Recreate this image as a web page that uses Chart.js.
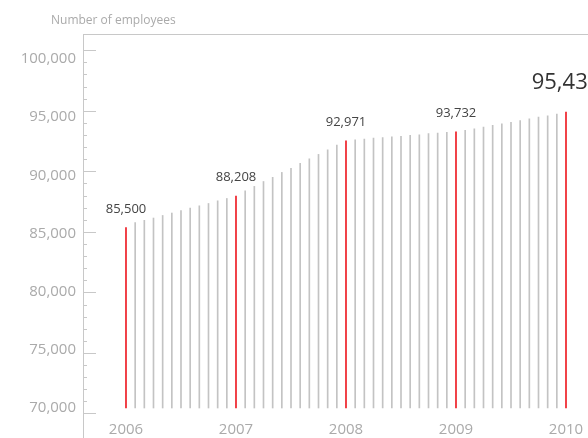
<!DOCTYPE html>
<html><head><meta charset="utf-8">
<script src="https://cdn.jsdelivr.net/npm/chart.js@4"></script>
<style>
html,body{margin:0;padding:0;background:#fff;}
#wrap{position:relative;width:588px;height:438px;overflow:hidden;}
#title{position:absolute;left:51px;top:12px;font:12px "Open Sans",sans-serif;color:#aaa;line-height:16px;white-space:nowrap;}
</style></head><body>
<div id="wrap"><canvas id="c" width="588" height="438"></canvas><div id="title">Number of employees</div></div>
<script>
// ---- data ----
const years = ['2006', '2007', '2008', '2009', '2010'];
const employees2006 = [85500, 85930, 86130, 86330, 86550, 86760, 86960, 87190, 87380, 87580, 87810, 88010];
const employees2007 = [88208, 88660, 89050, 89470, 89830, 90250, 90610, 91030, 91420, 91800, 92200, 92590];
const employees2008 = [92971, 93050, 93120, 93200, 93250, 93310, 93350, 93430, 93480, 93580, 93630, 93690];
const employees2009 = [93732, 93860, 94000, 94150, 94290, 94420, 94560, 94710, 94860, 95000, 95120, 95260];
const employees2010 = [95438];
const yTickLabels = [70000, 75000, 80000, 85000, 90000, 95000, 100000];
const yMinorTicks = [71000,72000,73000,74000,76000,77000,78000,79000,81000,82000,83000,84000,86000,87000,88000,89000,91000,92000,93000,94000,96000,97000,98000,99000];
const yearStartIndex = [0, 12, 24, 36, 48];

const values = [].concat(employees2006, employees2007, employees2008, employees2009, employees2010);
const points = values.map((v, i) => ({x: i, y: v}));

const RED = '#ee1c24';
const GRAY = '#c3c3c3';
const AXIS = '#c8c8c8';
const LABEL = '#aaaaaa';
const FONT = '"Open Sans", sans-serif';

const noPad = s => { s.paddingTop = 0; s.paddingBottom = 0; s.paddingLeft = 0; s.paddingRight = 0; };

const valueLabels = {
  id: 'valueLabels',
  afterDatasetsDraw(chart) {
    const meta = chart.getDatasetMeta(0);
    const ctx = chart.ctx;
    ctx.save();
    ctx.textAlign = 'center';
    ctx.textBaseline = 'alphabetic';
    yearStartIndex.forEach((i, k) => {
      const el = meta.data[i];
      const big = k === yearStartIndex.length - 1;
      ctx.font = (big ? '22px ' : '13px ') + FONT;
      ctx.fillStyle = big ? '#333333' : '#444444';
      ctx.fillText(values[i].toLocaleString('en-US'), el.x, el.y - (big ? 23 : 15));
    });
    ctx.restore();
  }
};

new Chart(document.getElementById('c'), {
  type: 'bar',
  data: {
    datasets: [{
      data: points,
      base: 70000,
      barThickness: 1,
      borderWidth: 0,
      backgroundColor: c => (c.dataIndex % 12 === 0 ? RED : GRAY)
    }]
  },
  options: {
    responsive: false,
    animation: false,
    layout: {padding: 0},
    plugins: {legend: {display: false}, tooltip: {enabled: false}, title: {display: false}},
    scales: {
      x: {
        type: 'linear', min: -4.69, max: 50.4, offset: false,
        position: {y: 70000},
        grid: {display: false, drawTicks: false, offset: false},
        border: {display: false},
        afterBuildTicks: s => { s.ticks = yearStartIndex.map(v => ({value: v})); },
        afterFit: s => { s.height = 0; noPad(s); },
        ticks: {
          callback: v => years[Math.round(v / 12)],
          font: {family: FONT, size: 15}, color: LABEL, padding: 7,
          maxRotation: 0, autoSkip: false
        }
      },
      xTop: {
        type: 'linear', position: 'top', offset: false,
        grid: {display: false, drawTicks: false},
        ticks: {display: false},
        border: {display: true, color: AXIS, width: 1},
        afterFit: s => { s.height = 34; noPad(s); }
      },
      yLabels: {
        type: 'linear', position: 'left', weight: 10,
        min: 67421, max: 102149,
        grid: {display: false, drawTicks: false},
        border: {display: false},
        afterBuildTicks: s => { s.ticks = yTickLabels.map(v => ({value: v})); },
        ticks: {
          callback: v => v.toLocaleString('en-US'),
          font: {family: FONT, size: 15}, color: LABEL, padding: 7
        },
        afterFit: s => { s.width = 83; noPad(s); }
      },
      y: {
        type: 'linear', position: 'left', weight: 0,
        min: 68018, max: 101379,
        grid: {display: true, drawOnChartArea: false, drawTicks: true, tickLength: -13, tickColor: AXIS, tickWidth: 1},
        border: {display: true, color: AXIS, width: 1},
        afterBuildTicks: s => { s.ticks = yTickLabels.map(v => ({value: v})); },
        ticks: {display: false},
        afterFit: s => { s.width = 0; noPad(s); }
      },
      yMinor: {
        type: 'linear', position: 'left', weight: 0,
        min: 68018, max: 101379,
        grid: {display: true, drawOnChartArea: false, drawTicks: true, tickLength: -4, tickColor: AXIS, tickWidth: 1},
        border: {display: false},
        afterBuildTicks: s => { s.ticks = yMinorTicks.map(v => ({value: v})); },
        ticks: {display: false},
        afterFit: s => { s.width = 0; noPad(s); }
      }
    }
  },
  plugins: [valueLabels]
});
</script>
</body></html>
